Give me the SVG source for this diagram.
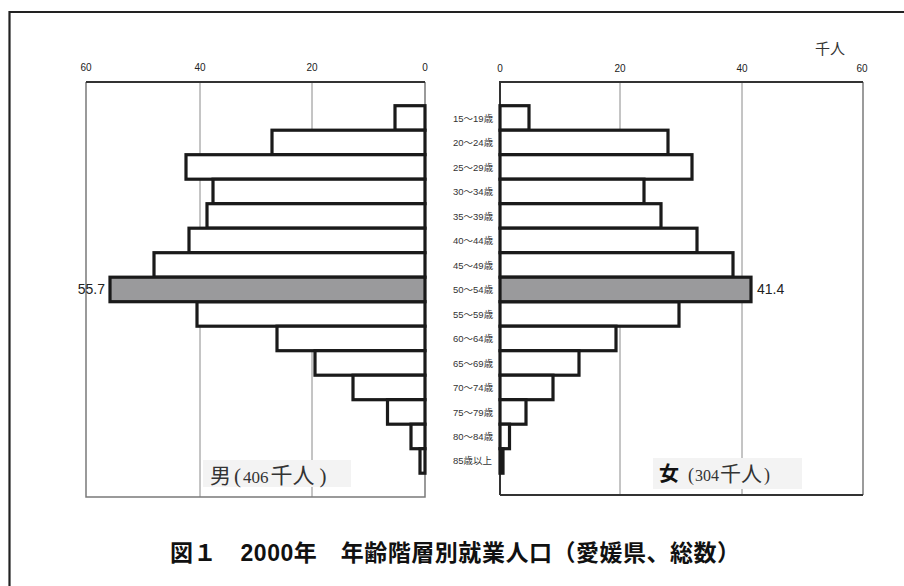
<svg xmlns="http://www.w3.org/2000/svg" width="904" height="586" viewBox="0 0 904 586">
<style>
.ax{font-family:"Liberation Sans",Arial,sans-serif;font-size:10px;fill:#222;text-anchor:middle}
.age{font-family:"Liberation Sans","Noto Sans CJK JP",sans-serif;font-size:9.5px;fill:#333}
.grid{stroke:#8a8a8a;stroke-width:1;fill:none}
.frame{stroke:#7a7a7a;stroke-width:1.5;fill:none}
.axis{stroke:#333;stroke-width:2;fill:none}
.bar{fill:#fff;stroke:#1a1a1a;stroke-width:3.2}
.hi{fill:#9a9a9c}
.val{font-family:"Liberation Sans",Arial,sans-serif;font-size:14px;fill:#222}
.lbl{fill:#f3f3f3}
.cjk{font-family:"Noto Sans CJK JP",sans-serif}
.leg{font-family:"Liberation Serif","Noto Sans CJK JP",serif;fill:#333}
</style>
<rect x="0" y="0" width="904" height="586" fill="#fff"/>
<path d="M9.5 590 V12 H910" fill="none" stroke="#222" stroke-width="2.2"/>
<g id="left-chart">
<path class="grid" d="M200 82 V497 M312 82 V497"/>
<path class="frame" d="M86 82 V497 H425 V82"/>
<path class="axis" d="M86 82 H425"/>
<text class="ax" x="86" y="71">60</text>
<text class="ax" x="200" y="71">40</text>
<text class="ax" x="312" y="71">20</text>
<text class="ax" x="425" y="71">0</text>
</g>
<g id="right-chart">
<path class="grid" d="M620 82 V495 M742 82 V495"/>
<path class="frame" d="M863 82 V495"/>
<path class="axis" d="M500 495 V82 H863 M500 495 H863"/>
<text class="ax" x="500" y="72">0</text>
<text class="ax" x="620" y="72">20</text>
<text class="ax" x="742" y="72">40</text>
<text class="ax" x="862" y="72">60</text>
<text class="cjk" x="815" y="54" font-size="15" fill="#333">千人</text>
</g>
<g id="male-bars">
<rect class="bar" x="395" y="105.7" width="30" height="24.5"/>
<rect class="bar" x="272" y="130.2" width="153" height="24.5"/>
<rect class="bar" x="186" y="154.7" width="239" height="24.5"/>
<rect class="bar" x="213" y="179.2" width="212" height="24.5"/>
<rect class="bar" x="207" y="203.7" width="218" height="24.5"/>
<rect class="bar" x="189" y="228.2" width="236" height="24.5"/>
<rect class="bar" x="154" y="252.7" width="271" height="24.5"/>
<rect class="bar" x="197" y="301.7" width="228" height="24.5"/>
<rect class="bar" x="277" y="326.2" width="148" height="24.5"/>
<rect class="bar" x="315" y="350.7" width="110" height="24.5"/>
<rect class="bar" x="353" y="375.2" width="72" height="24.5"/>
<rect class="bar" x="387.5" y="399.7" width="37.5" height="24.5"/>
<rect class="bar" x="411" y="424.2" width="14" height="24.5"/>
<rect class="bar" x="420" y="448.7" width="5" height="24.5"/>
<rect class="bar hi" x="110" y="277.2" width="315" height="24.5"/>
<text class="val" x="105" y="294" text-anchor="end">55.7</text>
</g>
<g id="female-bars">
<rect class="bar" x="500" y="105.7" width="29" height="24.5"/>
<rect class="bar" x="500" y="130.2" width="168" height="24.5"/>
<rect class="bar" x="500" y="154.7" width="192" height="24.5"/>
<rect class="bar" x="500" y="179.2" width="144" height="24.5"/>
<rect class="bar" x="500" y="203.7" width="161" height="24.5"/>
<rect class="bar" x="500" y="228.2" width="197" height="24.5"/>
<rect class="bar" x="500" y="252.7" width="233" height="24.5"/>
<rect class="bar" x="500" y="301.7" width="179" height="24.5"/>
<rect class="bar" x="500" y="326.2" width="116" height="24.5"/>
<rect class="bar" x="500" y="350.7" width="79" height="24.5"/>
<rect class="bar" x="500" y="375.2" width="53" height="24.5"/>
<rect class="bar" x="500" y="399.7" width="26" height="24.5"/>
<rect class="bar" x="500" y="424.2" width="9.5" height="24.5"/>
<rect class="bar" x="500" y="448.7" width="3" height="24.5"/>
<rect class="bar hi" x="500" y="277.2" width="251" height="24.5"/>
<text class="val" x="757" y="294">41.4</text>
</g>
<g id="age-labels">
<text class="age" x="453" y="121.5">15～19歳</text>
<text class="age" x="453" y="146">20～24歳</text>
<text class="age" x="453" y="170.5">25～29歳</text>
<text class="age" x="453" y="195">30～34歳</text>
<text class="age" x="453" y="219.5">35～39歳</text>
<text class="age" x="453" y="244">40～44歳</text>
<text class="age" x="453" y="268.5">45～49歳</text>
<text class="age" x="453" y="293">50～54歳</text>
<text class="age" x="453" y="317.5">55～59歳</text>
<text class="age" x="453" y="342">60～64歳</text>
<text class="age" x="453" y="366.5">65～69歳</text>
<text class="age" x="453" y="391">70～74歳</text>
<text class="age" x="453" y="415.5">75～79歳</text>
<text class="age" x="453" y="440">80～84歳</text>
<text class="age" x="453" y="464">85歳以上</text>
</g>
<g id="male-label">
<rect class="lbl" x="203" y="460" width="148" height="27"/>
<text class="leg" x="210" y="483"><tspan font-size="21">男</tspan><tspan dx="3" font-size="21">(</tspan><tspan dx="2" font-size="17">406</tspan><tspan dx="2" font-size="22">千人</tspan><tspan dx="5" font-size="21">)</tspan></text>
</g>
<g id="female-label">
<rect class="lbl" x="653" y="458" width="149" height="31"/>
<text class="leg" x="659" y="481"><tspan font-size="20" font-weight="bold" font-family="'Noto Sans CJK JP',sans-serif" fill="#111">女</tspan><tspan dx="9" font-size="18">(</tspan><tspan dx="1" font-size="16">304</tspan><tspan dx="1" font-size="21">千人</tspan><tspan dx="2" font-size="18">)</tspan></text>
</g>
<g id="title">
<text x="170" y="561" font-family="'Liberation Sans','Noto Sans CJK JP',sans-serif" font-size="23" font-weight="bold" fill="#111" textLength="570" lengthAdjust="spacing">図１　2000年　年齢階層別就業人口（愛媛県、総数）</text>
</g>
</svg>
